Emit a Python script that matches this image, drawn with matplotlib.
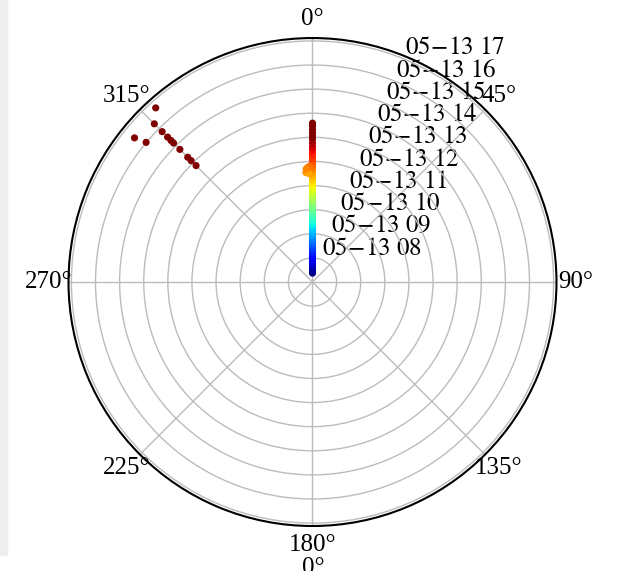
import numpy as np
import matplotlib
matplotlib.use("Agg")
import matplotlib.pyplot as plt
from matplotlib.patches import Rectangle

plt.rcParams['font.family'] = ['Liberation Serif', 'DejaVu Serif']
plt.rcParams['mathtext.fontset'] = 'stix'

# track along north (hour of day, degrees)
line_hours = [7.37, 7.44, 7.52, 7.61, 7.70, 7.78, 7.87, 7.96, 8.05, 8.14, 8.22, 8.31,
              8.40, 8.49, 8.58, 8.66, 8.75, 8.84, 8.93, 9.02, 9.11, 9.19, 9.28, 9.37,
              9.46, 9.55, 9.63, 9.72, 9.81, 9.90, 9.99, 10.08, 10.16, 10.25, 10.34,
              10.43, 10.52, 10.60, 10.69, 10.78, 10.87, 10.96, 11.05, 11.13, 11.22,
              11.31, 11.40, 11.49, 11.58, 11.66, 11.75, 11.84, 11.93, 12.02, 12.10,
              12.19, 12.27, 12.34, 12.48, 12.61, 12.76, 12.92, 13.06, 13.20, 13.34,
              13.47, 13.59]
line_theta = [0.0] * len(line_hours)

# small cluster just west of north
blob_theta = [356.5, 357.0, 358.0, 357.5, 358.5, 356.8]
blob_hours = [11.55, 11.65, 11.50, 11.75, 11.80, 11.70]

# afternoon points towards the north-west
nw_theta = [318, 315, 309, 310, 315, 315, 315, 315, 315, 315, 315, 315]
nw_hours = [16.72, 16.28, 16.50, 16.01, 15.82, 15.50, 15.30, 15.15, 14.78, 14.32,
            14.12, 13.83]

rticks = [8, 9, 10, 11, 12, 13, 14, 15, 16, 17]
rlabels = [r'$05\!-\!13\ %02d$' % h for h in rticks]

theta = np.radians(line_theta + blob_theta + nw_theta)
hours = np.array(line_hours + blob_hours + nw_hours)

fig = plt.figure(figsize=(6.24, 5.71), dpi=100)
fig.patches.append(Rectangle((0, 1 - 555 / 571), 7 / 624, 555 / 571,
                             transform=fig.transFigure, color='#eeeeee', zorder=-1))

ax = fig.add_axes([0.1098, 0.0788, 0.782, 0.8546], projection='polar')
ax.set_theta_zero_location('N')
ax.set_theta_direction(-1)
ax.scatter(theta, hours, c=hours, cmap='jet', vmin=7.37, vmax=13.0, s=17, zorder=3)
ax.set_rlim(7, 17.12)
ax.set_yticks(rticks)
ax.set_yticklabels(rlabels)
ax.tick_params(labelsize=18)
ax.grid(color='#bcbcbc', linewidth=1.0)
ax.spines['polar'].set_linewidth(1.5)

# top of the next panel's label, cut by the lower edge
fig.text(313 / 624, 1 - 557 / 571, '0°', fontsize=18, ha='center', va='top')

fig.savefig('out.png', dpi=100)
